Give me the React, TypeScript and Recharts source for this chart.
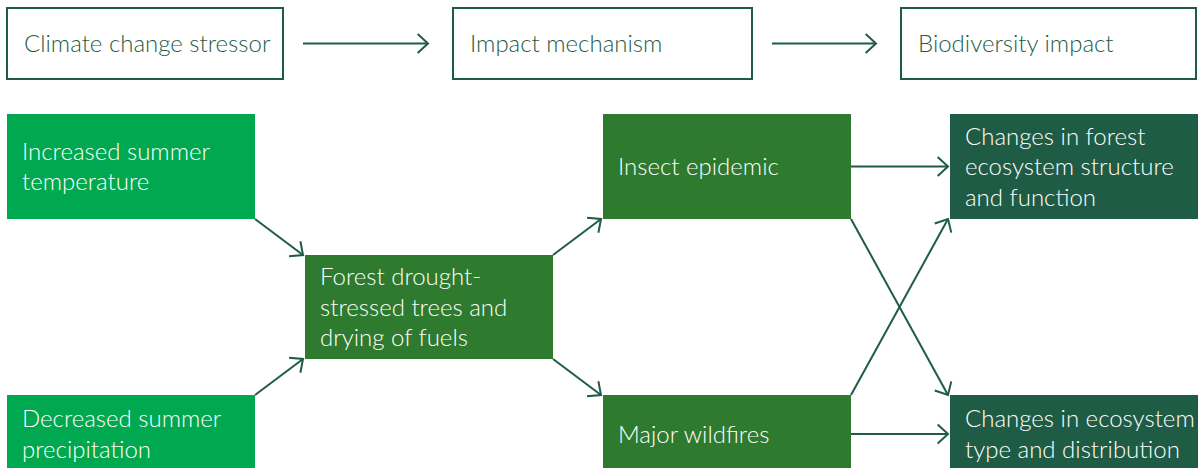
import React from 'react';
import { ScatterChart, Scatter, XAxis, YAxis, ReferenceArea, ReferenceLine } from 'recharts';

// Header row: the three stages of the chain
const headerLabels = ['Climate change stressor', 'Impact mechanism', 'Biodiversity impact'];

// Flow nodes (one entry per box)
const nodeIds = ['temp', 'precip', 'drought', 'insects', 'fires', 'structure', 'distribution'];
const nodeLines = [
  ['Increased summer', 'temperature'],
  ['Decreased summer', 'precipitation'],
  ['Forest drought-', 'stressed trees and', 'drying of fuels'],
  ['Insect epidemic'],
  ['Major wildfires'],
  ['Changes in forest', 'ecosystem structure', 'and function'],
  ['Changes in ecosystem', 'type and distribution'],
];
const nodeStage = [0, 0, 1, 2, 2, 3, 3];
const nodeRow = [0, 2, 1, 0, 2, 0, 2];

// Links between nodes
const links = [
  ['temp', 'drought'],
  ['precip', 'drought'],
  ['drought', 'insects'],
  ['drought', 'fires'],
  ['insects', 'structure'],
  ['insects', 'distribution'],
  ['fires', 'structure'],
  ['fires', 'distribution'],
];

const W = 1198;
const H = 468;
const FONT = 'Lato, "Open Sans", sans-serif';
const DARK = '#1f5c45';
const stageColors = ['#00a84f', '#2e7a2e', '#2e7a2e', '#1f5c45'];

// layout
const colLeft = [7, 305, 603, 950];
const boxW = 248;
const rowTop = [114, 255, 395];
const rowH = [105, 104, 78];
const headLeft = [7, 453, 901];
const headRight = [283, 752, 1196];
const headTop = 8;
const headBottom = 79;

const FS = 24;
const LH = 30.5;

const TextBlock = ({ x, cy, lines, color }: { x: number; cy: number; lines: string[]; color: string }) => (
  <text x={x} fill={color} fontFamily={FONT} fontSize={FS} fontWeight={300}>
    {lines.map((l, i) => (
      <tspan key={i} x={x} y={cy - ((lines.length - 1) / 2) * LH + i * LH + FS * 0.36}>
        {l}
      </tspan>
    ))}
  </text>
);

const Arrow = (p: any) => {
  const { x1, y1, x2, y2 } = p;
  const a = Math.atan2(y2 - y1, x2 - x1);
  const L = 14;
  const s = 0.74;
  const p1 = `${x2 - L * Math.cos(a - s)},${y2 - L * Math.sin(a - s)}`;
  const p2 = `${x2 - L * Math.cos(a + s)},${y2 - L * Math.sin(a + s)}`;
  return (
    <g>
      <line x1={x1} y1={y1} x2={x2} y2={y2} stroke={DARK} strokeWidth={2} />
      <polyline points={`${p1} ${x2},${y2} ${p2}`} fill="none" stroke={DARK} strokeWidth={2} />
    </g>
  );
};

const box = (i: number) => {
  const x1 = colLeft[nodeStage[i]];
  const y1 = rowTop[nodeRow[i]];
  return { x1, y1, x2: x1 + boxW, y2: y1 + rowH[nodeRow[i]] };
};

const linkPoints = (from: string, to: string) => {
  const s = nodeIds.indexOf(from);
  const t = nodeIds.indexOf(to);
  const a = box(s);
  const b = box(t);
  if (nodeRow[t] === nodeRow[s]) {
    const y = (a.y1 + a.y2) / 2;
    return [{ x: a.x2, y }, { x: b.x1 - 2, y }];
  }
  if (nodeRow[t] > nodeRow[s]) {
    return [{ x: a.x2, y: a.y2 }, { x: b.x1 - 2, y: b.y1 }];
  }
  return [{ x: a.x2, y: a.y1 }, { x: b.x1 - 2, y: b.y2 }];
};

const App: React.FC = () => {
  const centers = nodeIds.map((id, i) => {
    const b = box(i);
    return { id, x: (b.x1 + b.x2) / 2, y: (b.y1 + b.y2) / 2 };
  });

  return (
    <div style={{ position: 'absolute', left: 0, top: 0, width: W, height: H, background: '#fff' }}>
      <ScatterChart width={W} height={H} margin={{ top: 0, right: 0, bottom: 0, left: 0 }}>
        <XAxis type="number" dataKey="x" domain={[0, W]} allowDataOverflow hide />
        <YAxis type="number" dataKey="y" domain={[0, H]} reversed allowDataOverflow hide />

        {headerLabels.map((label, i) => (
          <ReferenceArea
            key={label}
            x1={headLeft[i]}
            x2={headRight[i]}
            y1={headTop}
            y2={headBottom}
            ifOverflow="visible"
            shape={(p: any) => (
              <g>
                <rect x={p.x} y={p.y} width={p.width} height={p.height} fill="#fff" stroke={DARK} strokeWidth={2} />
                <TextBlock x={p.x + 17} cy={p.y + p.height / 2} lines={[label]} color={DARK} />
              </g>
            )}
          />
        ))}

        {headerLabels.slice(1).map((label, i) => (
          <ReferenceLine
            key={`h-${label}`}
            segment={[
              { x: headRight[i] + 20, y: (headTop + headBottom) / 2 },
              { x: headLeft[i + 1] - 25, y: (headTop + headBottom) / 2 },
            ]}
            ifOverflow="visible"
            shape={Arrow}
          />
        ))}

        {nodeIds.map((id, i) => {
          const b = box(i);
          return (
            <ReferenceArea
              key={id}
              x1={b.x1}
              x2={b.x2}
              y1={b.y1}
              y2={b.y2}
              ifOverflow="visible"
              shape={(p: any) => (
                <g>
                  <rect x={p.x} y={p.y} width={p.width} height={p.height} fill={stageColors[nodeStage[i]]} />
                  <TextBlock x={p.x + 15} cy={p.y + p.height / 2} lines={nodeLines[i]} color="#fff" />
                </g>
              )}
            />
          );
        })}

        {links.map(([from, to]) => (
          <ReferenceLine
            key={`${from}-${to}`}
            segment={linkPoints(from, to)}
            ifOverflow="visible"
            shape={Arrow}
          />
        ))}

        <Scatter data={centers} fill="none" isAnimationActive={false} />
      </ScatterChart>
    </div>
  );
};

export default App;
